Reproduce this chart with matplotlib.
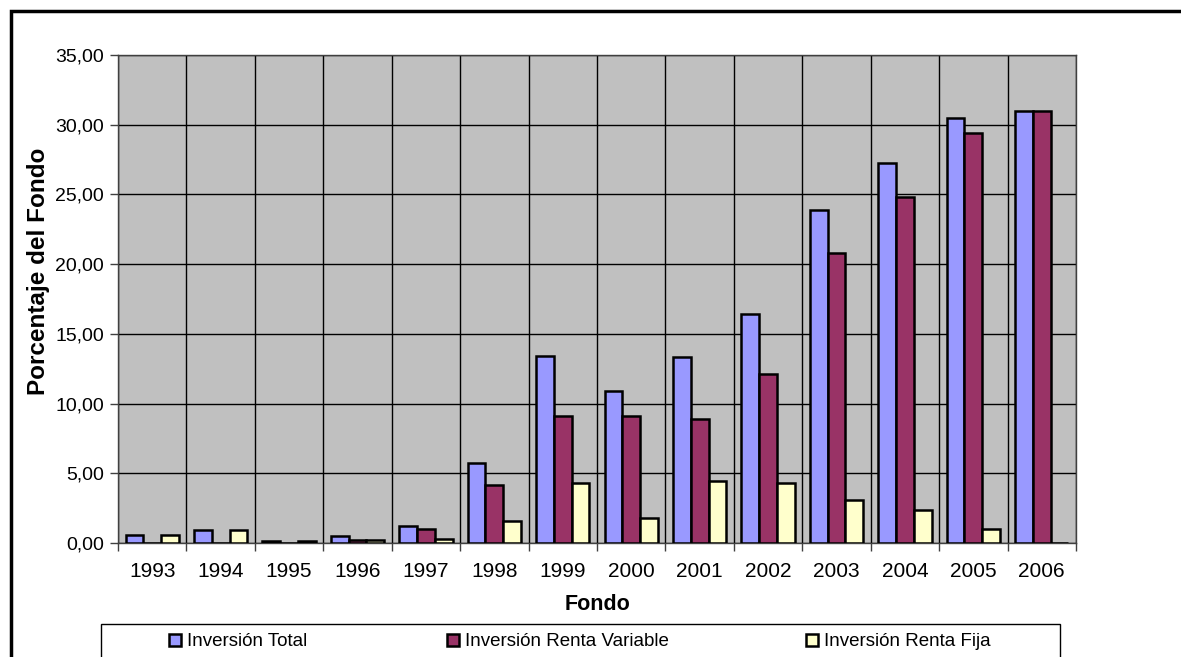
import matplotlib.pyplot as plt
from matplotlib.patches import Rectangle
from matplotlib.ticker import FuncFormatter
import numpy as np

years = ['1993', '1994', '1995', '1996', '1997', '1998', '1999', '2000',
         '2001', '2002', '2003', '2004', '2005', '2006']
inv_total = [0.55, 0.90, 0.15, 0.50, 1.25, 5.74, 13.44, 10.90,
             13.37, 16.43, 23.87, 27.23, 30.45, 31.00]
inv_variable = [0.00, 0.00, 0.00, 0.25, 1.00, 4.16, 9.10, 9.10,
                8.90, 12.12, 20.80, 24.80, 29.40, 31.00]
inv_fija = [0.55, 0.90, 0.15, 0.25, 0.30, 1.60, 4.33, 1.82,
            4.47, 4.33, 3.08, 2.40, 1.00, 0.00]
series_names = ['Inversión Total', 'Inversión Renta Variable', 'Inversión Renta Fija']

plt.rcParams['font.family'] = ['Liberation Sans', 'DejaVu Sans']

fig = plt.figure(figsize=(11.81, 6.57), dpi=100)
ax = fig.add_axes([118 / 1181, 1 - 543 / 657, (1076 - 118) / 1181, (543 - 55) / 657])
ax.set_facecolor('#C0C0C0')

x = np.arange(len(years))
w = 0.26
colors = ['#9999FF', '#993366', '#FFFFCC']
bars = []
for i, (vals, c) in enumerate(zip([inv_total, inv_variable, inv_fija], colors)):
    b = ax.bar(x + (i - 1) * w, vals, w, color=c, edgecolor='black',
               linewidth=1.8, zorder=3)
    bars.append(b)

ax.set_xlim(-0.5, len(years) - 0.5)
ax.set_ylim(0, 35)
ax.set_yticks(np.arange(0, 36, 5))
ax.yaxis.set_major_formatter(FuncFormatter(lambda v, p: f'{v:.2f}'.replace('.', ',')))
ax.set_xticks(x)
ax.set_xticklabels(years)
ax.set_xticks(np.arange(-0.5, len(years), 1), minor=True)
ax.tick_params(axis='x', which='major', length=0, labelsize=15, pad=14)
ax.tick_params(axis='x', which='minor', length=6, color='#404040', width=1)
ax.tick_params(axis='y', length=6, color='#404040', width=1, labelsize=14, pad=4)
ax.grid(axis='y', which='major', color='black', linewidth=1, zorder=1)
ax.grid(axis='x', which='minor', color='black', linewidth=1, zorder=1)
for s in ax.spines.values():
    s.set_color('#404040')
    s.set_linewidth(1)

ax.set_xlabel('Fondo', fontsize=15.5, fontweight='bold', labelpad=9)
ax.set_ylabel('Porcentaje del Fondo', fontsize=17.5, fontweight='bold')
ax.yaxis.set_label_coords(-0.071, 0.556)

# outer chart frame (cropped at right and bottom)
fig.patches.append(Rectangle((11 / 1181, -0.1), 1.2, 1.1 - 11 / 657,
                             transform=fig.transFigure, fill=False,
                             edgecolor='black', linewidth=2.5))
# legend frame
fig.patches.append(Rectangle((101 / 1181, -0.1), (1060 - 101) / 1181, 0.1 + 1 - 624 / 657,
                             transform=fig.transFigure, fill=False,
                             edgecolor='black', linewidth=1))

leg_x = [169, 447, 806]
for b, name, lx in zip(bars, series_names, leg_x):
    fig.legend([b], [name], loc='center left',
               bbox_to_anchor=(lx / 1181, 1 - 642 / 657), frameon=False,
               fontsize=13.5, handlelength=0.65, handleheight=0.65,
               handletextpad=0.3, borderpad=0, borderaxespad=0)

fig.savefig('out.png', dpi=100)
